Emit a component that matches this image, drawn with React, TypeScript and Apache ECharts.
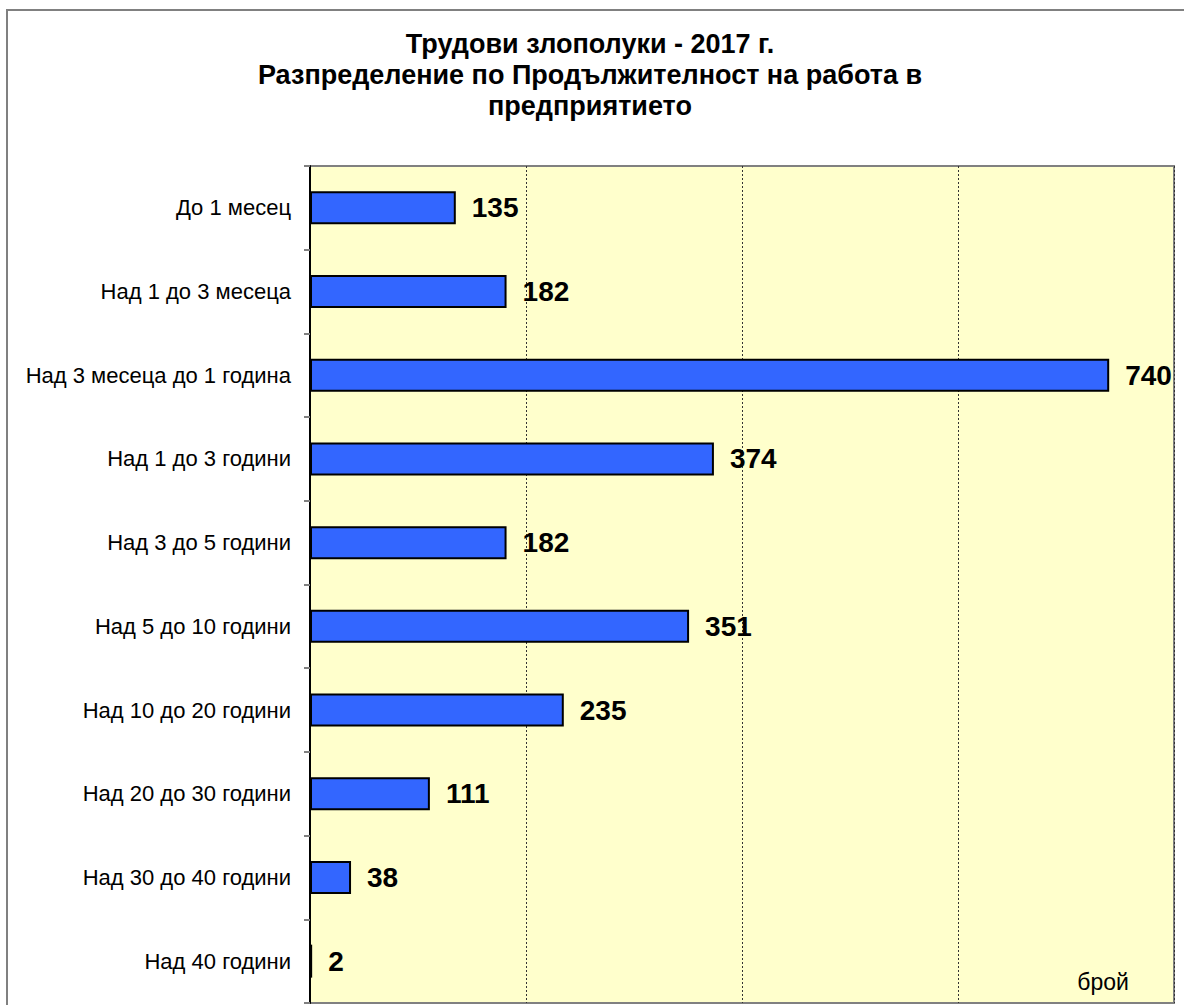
import React, { useEffect, useRef } from "react";
import * as echarts from "echarts";

const categories = [
  "До 1 месец",
  "Над 1 до 3 месеца",
  "Над 3 месеца до 1 година",
  "Над 1 до 3 години",
  "Над 3 до 5 години",
  "Над 5 до 10 години",
  "Над 10 до 20 години",
  "Над 20 до 30 години",
  "Над 30 до 40 години",
  "Над 40 години",
];
const values = [135, 182, 740, 374, 182, 351, 235, 111, 38, 2];
const titleLines = [
  "Трудови злополуки - 2017 г.",
  "Разпределение по Продължителност на работа в",
  "предприятието",
];
const unitLabel = "брой";

const FONT = "'Liberation Sans', Arial, Helvetica, sans-serif";

export default function App() {
  const ref = useRef<HTMLDivElement>(null);
  useEffect(() => {
    if (!ref.current) return;
    const chart = echarts.init(ref.current, null, { renderer: "svg" });
    const titleGraphics = titleLines.map((line, i) => ({
      type: "text",
      x: 590,
      y: 44 + i * 31,
      style: {
        text: line,
        fontFamily: FONT,
        fontSize: 27,
        fontWeight: "bold",
        fill: "#000",
        align: "center",
        verticalAlign: "middle",
      },
      z: 100,
    }));
    chart.setOption({
      animation: false,
      backgroundColor: "#FFFFFF",
      grid: {
        left: 310,
        top: 166,
        width: 864,
        height: 837,
        show: true,
        backgroundColor: "#FFFFCC",
        borderColor: "#808080",
        borderWidth: 2,
        containLabel: false,
      },
      xAxis: {
        type: "value",
        min: 0,
        max: 800,
        interval: 200,
        axisLabel: { show: false },
        axisTick: { show: false },
        axisLine: { show: false },
        splitLine: {
          show: true,
          lineStyle: { color: "#333", width: 1, type: [2, 2] },
        },
      },
      yAxis: {
        type: "category",
        data: categories,
        inverse: true,
        axisLine: { show: true, lineStyle: { color: "#000", width: 2 } },
        axisTick: { show: true, length: 6, lineStyle: { color: "#808080", width: 2 } },
        axisLabel: { fontFamily: FONT, fontSize: 22, color: "#000", margin: 19 },
        splitLine: { show: false },
      },
      series: [
        {
          type: "bar",
          data: values,
          barWidth: 33,
          itemStyle: { color: "#3366FF", borderColor: "#000", borderWidth: 2 },
          label: {
            show: true,
            position: "right",
            distance: 16,
            fontFamily: FONT,
            fontSize: 28,
            fontWeight: "bold",
            color: "#000",
          },
        },
      ],
      graphic: [
        {
          type: "rect",
          shape: { x: 7, y: 10, width: 1400, height: 1300 },
          style: { fill: "none", stroke: "#808080", lineWidth: 2 },
          z: 100,
          silent: true,
        },
        ...titleGraphics,
        {
          type: "text",
          x: 1103,
          y: 982,
          style: {
            text: unitLabel,
            fontFamily: FONT,
            fontSize: 23,
            fill: "#000",
            align: "center",
            verticalAlign: "middle",
          },
          z: 100,
        },
      ],
    });
    return () => chart.dispose();
  }, []);
  return (
    <div
      ref={ref}
      style={{ position: "fixed", left: 0, top: 0, width: 1184, height: 1005 }}
    />
  );
}
